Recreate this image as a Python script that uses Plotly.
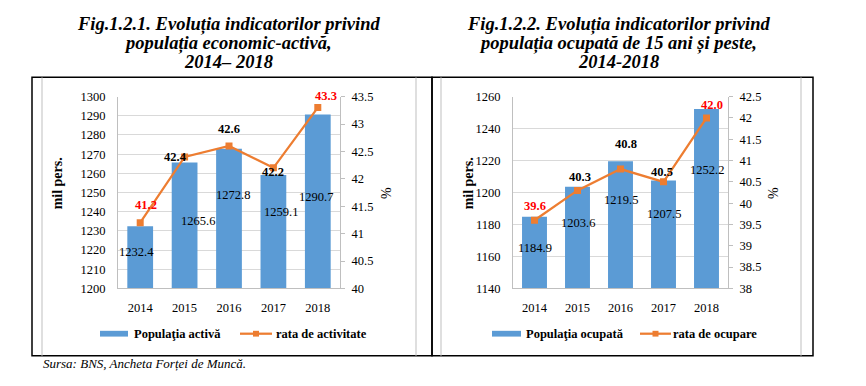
import plotly.graph_objects as go

# ---------------- data ----------------
years = [2014, 2015, 2016, 2017, 2018]
year_labels = ["2014", "2015", "2016", "2017", "2018"]

pop_activa = [1232.4, 1265.6, 1272.8, 1259.1, 1290.7]
rata_activitate = [41.2, 42.4, 42.6, 42.2, 43.3]

pop_ocupata = [1184.9, 1203.6, 1219.5, 1207.5, 1252.2]
rata_ocupare = [39.6, 40.3, 40.8, 40.5, 42.0]

title_left = ["Fig.1.2.1. Evoluția indicatorilor privind", "populația economic-activă,", "2014– 2018"]
title_right = ["Fig.1.2.2. Evoluția indicatorilor privind", "populația ocupată de 15 ani și peste,", "2014-2018"]
legend_left = ["Populaţia activă", "rata de activitate"]
legend_right = ["Populaţia ocupată", "rata de ocupare"]
source_text = "Sursa: BNS, Ancheta Forței de Muncă."

# ---------------- style ----------------
W, H = 866, 386
FONT = "Liberation Serif"
BLUE = "#5B9BD5"
ORANGE = "#ED7D31"
RED = "#FF0000"
GRID = "#D9D9D9"
AXIS = "#BFBFBF"

def px(x):
    return x / W

def py(y):
    return 1 - y / H

def label_colors(vals):
    return [RED if (v == min(vals) or v == max(vals)) else "black" for v in vals]

# pixel shifts for data labels to mimic the reference placement
bar_shift_left = [(-4, 5), (13, 5), (4, 24), (8, 20), (-2, 4)]
line_shift_left = [(6, 18), (-9, 0), (0, 17), (0, -4), (8, 12)]
bar_shift_right = [(0, 5), (0, 15), (0, 25), (0, 20), (0, 29)]
line_shift_right = [(0, 14), (2, 13), (5, 25), (-2, 10), (5, 13)]

fig = go.Figure()

fig.add_trace(go.Bar(x=years, y=pop_activa, width=0.58, marker=dict(color=BLUE, line=dict(width=0)),
                     xaxis="x", yaxis="y", showlegend=False, name=legend_left[0]))
fig.add_trace(go.Scatter(x=years, y=rata_activitate, mode="lines+markers", xaxis="x", yaxis="y2",
                         line=dict(color=ORANGE, width=2.25),
                         marker=dict(symbol="square", size=7, color=ORANGE),
                         showlegend=False, name=legend_left[1]))
fig.add_trace(go.Bar(x=years, y=pop_ocupata, width=0.58, marker=dict(color=BLUE, line=dict(width=0)),
                     xaxis="x2", yaxis="y3", showlegend=False, name=legend_right[0]))
fig.add_trace(go.Scatter(x=years, y=rata_ocupare, mode="lines+markers", xaxis="x2", yaxis="y4",
                         line=dict(color=ORANGE, width=2.25),
                         marker=dict(symbol="square", size=7, color=ORANGE),
                         showlegend=False, name=legend_right[1]))

tickfont = dict(family=FONT, size=12.5, color="black")

ydom = [py(292), py(93)]
xdomL = [px(118), px(340)]
xdomR = [px(513), px(728)]

xcommon = dict(type="linear", range=[2013.5, 2018.5], tickmode="array", tickvals=years,
               ticktext=year_labels, showline=True, linecolor=AXIS, ticks="", showgrid=False,
               zeroline=False, tickfont=tickfont, ticklabelstandoff=8)

fig.update_layout(
    width=W, height=H,
    margin=dict(l=0, r=0, t=0, b=0),
    paper_bgcolor="white", plot_bgcolor="white",
    font=dict(family=FONT, size=12, color="black"),
    hovermode=False,
    xaxis=dict(domain=xdomL, anchor="y", **xcommon),
    yaxis=dict(domain=ydom, anchor="x", range=[1200, 1300], dtick=10, showgrid=True,
               gridcolor=GRID, showline=True, linecolor=AXIS, ticks="", zeroline=False,
               tickfont=tickfont, ticklabelstandoff=9),
    yaxis2=dict(overlaying="y", side="right", anchor="x", range=[40, 43.5], dtick=0.5,
                showgrid=False, showline=True, linecolor=AXIS, ticks="outside", ticklen=4,
                tickcolor=AXIS, zeroline=False, tickfont=tickfont, ticklabelstandoff=4),
    xaxis2=dict(domain=xdomR, anchor="y3", **xcommon),
    yaxis3=dict(domain=ydom, anchor="x2", range=[1140, 1260], dtick=20, showgrid=True,
                gridcolor=GRID, showline=True, linecolor=AXIS, ticks="", zeroline=False,
                tickfont=tickfont, ticklabelstandoff=9),
    yaxis4=dict(overlaying="y3", side="right", anchor="x2", range=[38, 42.5], dtick=0.5,
                showgrid=False, showline=True, linecolor=AXIS, ticks="outside", ticklen=4,
                tickcolor=AXIS, zeroline=False, tickfont=tickfont, ticklabelstandoff=4),
)

ann = []
for lines, xc in [(title_left, 228), (title_right, 618)]:
    for line, yc in zip(lines, [18, 38, 57]):
        ann.append(dict(text="<b><i>" + line + "</i></b>", x=px(xc), y=py(yc), xref="paper", yref="paper",
                        xanchor="center", yanchor="middle", showarrow=False,
                        font=dict(family=FONT, size=18.5, color="black")))

for xa, ya, vals, shifts, base in [("x", "y", pop_activa, bar_shift_left, 1200),
                                    ("x2", "y3", pop_ocupata, bar_shift_right, 1140)]:
    for yr, v, (dx, dy) in zip(years, vals, shifts):
        ann.append(dict(text=f"{v:.1f}", x=yr, y=(base + v) / 2, xref=xa, yref=ya,
                        xshift=dx, yshift=dy, showarrow=False,
                        font=dict(family=FONT, size=12.5, color="black")))

for xa, ya, vals, shifts in [("x", "y2", rata_activitate, line_shift_left),
                             ("x2", "y4", rata_ocupare, line_shift_right)]:
    cols = label_colors(vals)
    for yr, v, c, (dx, dy) in zip(years, vals, cols, shifts):
        ann.append(dict(text=f"<b>{v:.1f}</b>", x=yr, y=v, xref=xa, yref=ya,
                        xshift=dx, yshift=dy, showarrow=False,
                        font=dict(family=FONT, size=12.5, color=c)))

for xc in [57, 468]:
    ann.append(dict(text="<b>mil pers.</b>", x=px(xc), y=py(183), xref="paper", yref="paper",
                    textangle=-90, showarrow=False, xanchor="center", yanchor="middle",
                    font=dict(family=FONT, size=14, color="black")))
for xc in [386, 773]:
    ann.append(dict(text="%", x=px(xc), y=py(193), xref="paper", yref="paper",
                    textangle=-90, showarrow=False, xanchor="center", yanchor="middle",
                    font=dict(family=FONT, size=14, color="black")))

shapes = []
for rect_x, txt1_x, line_x, txt2_x, labels in [((100, 128), 132, (240, 272), 274, legend_left),
                                               ((492, 521), 524, (640, 671), 671, legend_right)]:
    shapes.append(dict(type="rect", xref="paper", yref="paper",
                       x0=px(rect_x[0]), x1=px(rect_x[1]), y0=py(342), y1=py(336),
                       fillcolor=BLUE, line=dict(width=0)))
    shapes.append(dict(type="line", xref="paper", yref="paper",
                       x0=px(line_x[0]), x1=px(line_x[1]), y0=py(339), y1=py(339),
                       line=dict(color=ORANGE, width=2.25)))
    mx = (line_x[0] + line_x[1]) / 2
    shapes.append(dict(type="rect", xref="paper", yref="paper",
                       x0=px(mx - 3), x1=px(mx + 3), y0=py(342), y1=py(336),
                       fillcolor=ORANGE, line=dict(width=0)))
    ann.append(dict(text="<b>" + labels[0] + "</b>", x=px(txt1_x), y=py(339), xref="paper", yref="paper",
                    xanchor="left", yanchor="middle", showarrow=False,
                    font=dict(family=FONT, size=12.5, color="black")))
    ann.append(dict(text="<b>" + labels[1] + "</b>", x=px(txt2_x), y=py(339), xref="paper", yref="paper",
                    xanchor="left", yanchor="middle", showarrow=False,
                    font=dict(family=FONT, size=12.5, color="black")))

ann.append(dict(text="<i>" + source_text + "</i>", x=px(41), y=py(370), xref="paper", yref="paper",
                xanchor="left", yanchor="middle", showarrow=False,
                font=dict(family=FONT, size=13, color="black")))

for x0, x1 in [(32, 432), (432, 813)]:
    shapes.append(dict(type="rect", xref="paper", yref="paper", x0=px(x0), x1=px(x1),
                       y0=py(362), y1=py(73), line=dict(color="black", width=1.5),
                       fillcolor="rgba(0,0,0,0)"))
for xg in [42, 416, 441, 801]:
    shapes.append(dict(type="line", xref="paper", yref="paper", x0=px(xg), x1=px(xg),
                       y0=py(362), y1=py(73), line=dict(color=AXIS, width=1)))

fig.update_layout(annotations=ann, shapes=shapes)

fig.write_html("out.html", config={"displayModeBar": False, "staticPlot": True},
               post_script="document.body.style.margin='0';document.body.style.overflow='hidden';")
